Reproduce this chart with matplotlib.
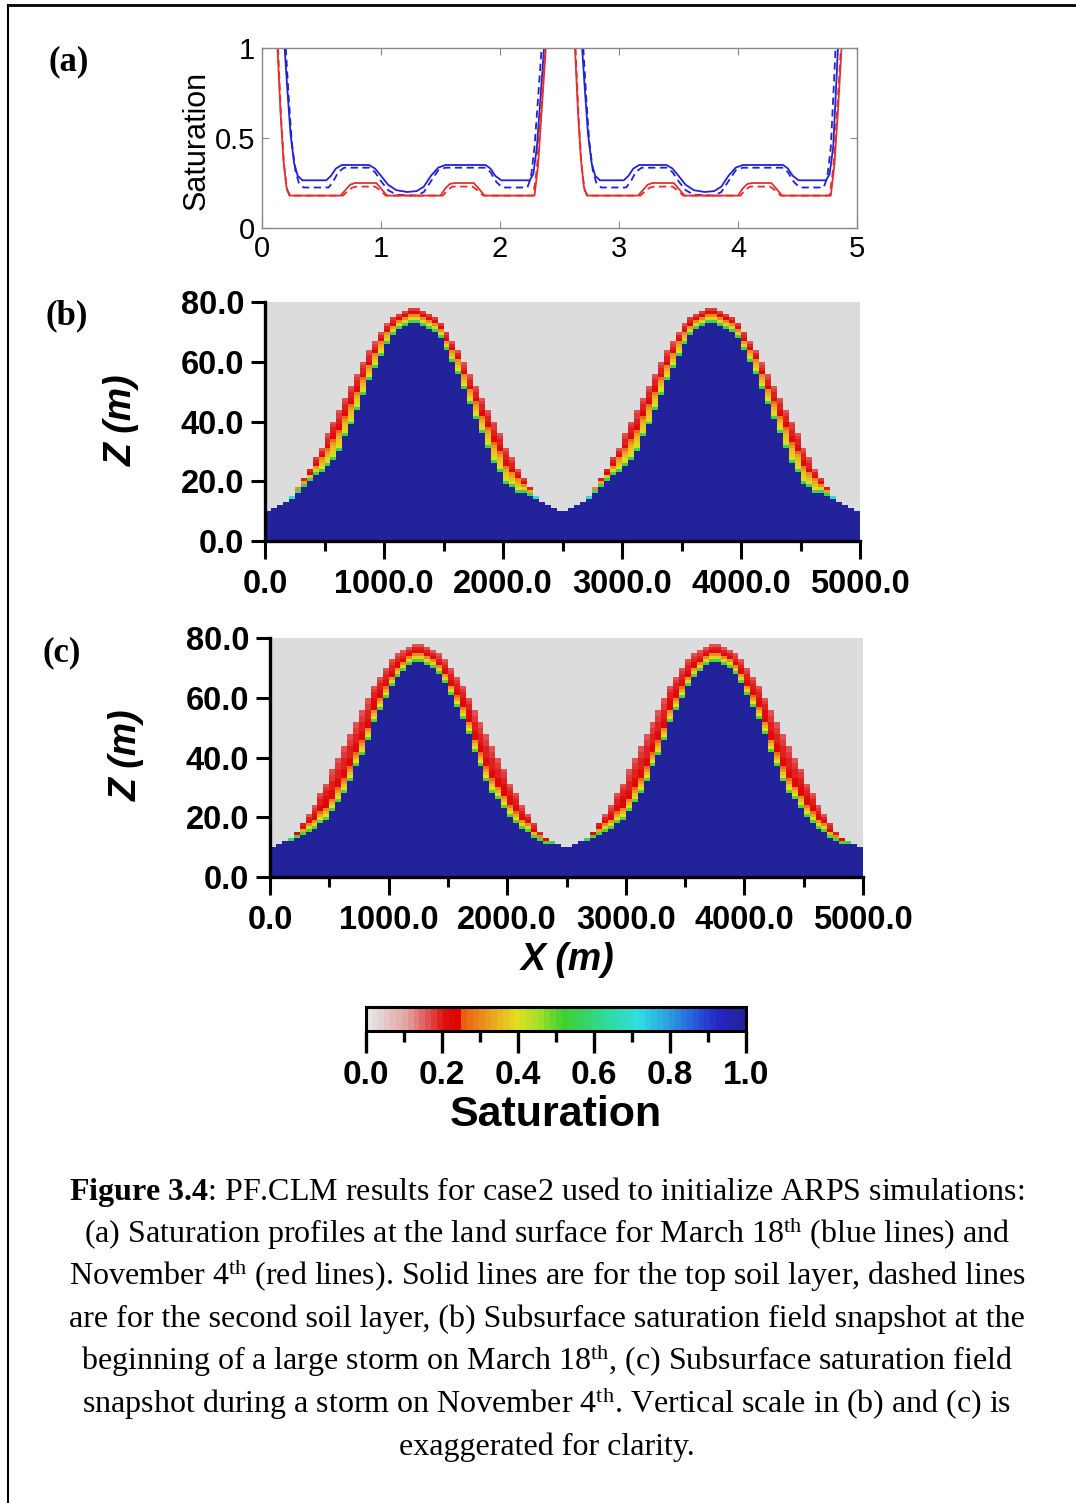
# PF.CLM case2 figure: saturation profiles (a) and subsurface saturation fields (b), (c)
import numpy as np
import matplotlib.pyplot as plt
from matplotlib.colors import LinearSegmentedColormap, Normalize
from matplotlib.cm import ScalarMappable
from matplotlib.lines import Line2D
from matplotlib.ticker import MultipleLocator

nan = np.nan

# ---- (a) surface saturation profiles, x in km ----
march_top_x = [0.19, 0.215, 0.24, 0.27, 0.30, 0.34, 0.54, 0.58, 0.62, 0.67, 0.90, 0.95, 1.00, 1.06, 1.13,
               1.22, 1.30, 1.36, 1.42, 1.48, 1.54, 1.88, 1.92, 1.96, 2.01, 2.25, 2.28, 2.31, 2.34, 2.37, nan,
               2.69, 2.715, 2.74, 2.77, 2.80, 2.84, 3.04, 3.08, 3.12, 3.17, 3.40, 3.45, 3.50, 3.56, 3.63,
               3.72, 3.80, 3.86, 3.92, 3.98, 4.04, 4.38, 4.42, 4.46, 4.51, 4.74, 4.77, 4.80, 4.82, 4.84]
march_top_y = [1.00, 0.75, 0.52, 0.36, 0.29, 0.265, 0.265, 0.29, 0.33, 0.35, 0.35, 0.33, 0.29, 0.24, 0.21,
               0.20, 0.205, 0.23, 0.29, 0.335, 0.35, 0.35, 0.33, 0.29, 0.265, 0.265, 0.30, 0.45, 0.72, 1.00, nan,
               1.00, 0.75, 0.52, 0.36, 0.29, 0.265, 0.265, 0.29, 0.33, 0.35, 0.35, 0.33, 0.29, 0.24, 0.21,
               0.20, 0.205, 0.23, 0.29, 0.335, 0.35, 0.35, 0.33, 0.29, 0.265, 0.265, 0.30, 0.45, 0.72, 1.00]

march_sub_x = [0.20, 0.225, 0.25, 0.28, 0.31, 0.35, 0.56, 0.60, 0.64, 0.69, 0.90, 0.95, 1.00, 1.06, 1.13,
               1.30, 1.36, 1.42, 1.48, 1.54, 1.88, 1.92, 1.97, 2.02, 2.23, 2.26, 2.29, 2.32, 2.35, nan,
               2.70, 2.725, 2.75, 2.78, 2.81, 2.85, 3.06, 3.10, 3.14, 3.19, 3.40, 3.45, 3.50, 3.56, 3.63,
               3.80, 3.86, 3.92, 3.98, 4.04, 4.38, 4.42, 4.47, 4.52, 4.72, 4.75, 4.78, 4.80, 4.82]
march_sub_y = [1.00, 0.72, 0.48, 0.32, 0.25, 0.225, 0.225, 0.26, 0.31, 0.335, 0.335, 0.31, 0.26, 0.21, 0.185,
               0.18, 0.20, 0.26, 0.32, 0.335, 0.335, 0.31, 0.255, 0.225, 0.225, 0.28, 0.45, 0.72, 1.00, nan,
               1.00, 0.72, 0.48, 0.32, 0.25, 0.225, 0.225, 0.26, 0.31, 0.335, 0.335, 0.31, 0.26, 0.21, 0.185,
               0.18, 0.20, 0.26, 0.32, 0.335, 0.335, 0.31, 0.255, 0.225, 0.225, 0.28, 0.45, 0.72, 1.00]

nov_top_x = [0.13, 0.155, 0.18, 0.205, 0.23, 0.66, 0.70, 0.74, 0.78, 0.96, 1.00, 1.05, 1.50, 1.54, 1.58,
             1.62, 1.78, 1.82, 1.87, 2.29, 2.32, 2.35, 2.385, nan,
             2.63, 2.655, 2.68, 2.705, 2.73, 3.16, 3.20, 3.24, 3.28, 3.46, 3.50, 3.55, 4.00, 4.04, 4.08,
             4.12, 4.28, 4.32, 4.37, 4.78, 4.81, 4.84, 4.87]
nov_top_y = [1.00, 0.65, 0.38, 0.23, 0.18, 0.18, 0.21, 0.24, 0.25, 0.25, 0.22, 0.18, 0.18, 0.22, 0.245,
             0.25, 0.25, 0.22, 0.18, 0.18, 0.35, 0.65, 1.00, nan,
             1.00, 0.65, 0.38, 0.23, 0.18, 0.18, 0.21, 0.24, 0.25, 0.25, 0.22, 0.18, 0.18, 0.22, 0.245,
             0.25, 0.25, 0.22, 0.18, 0.18, 0.35, 0.65, 1.00]

nov_sub_x = [0.135, 0.16, 0.185, 0.21, 0.24, 0.68, 0.72, 0.76, 0.80, 0.95, 0.99, 1.04, 1.52, 1.56, 1.60,
             1.77, 1.81, 1.86, 2.28, 2.31, 2.34, 2.38, nan,
             2.635, 2.66, 2.685, 2.71, 2.74, 3.18, 3.22, 3.26, 3.30, 3.45, 3.49, 3.54, 4.02, 4.06, 4.10,
             4.27, 4.31, 4.36, 4.77, 4.80, 4.83, 4.865]
nov_sub_y = [1.00, 0.62, 0.35, 0.21, 0.18, 0.18, 0.205, 0.225, 0.23, 0.23, 0.21, 0.18, 0.18, 0.21, 0.23,
             0.23, 0.21, 0.18, 0.18, 0.33, 0.62, 1.00, nan,
             1.00, 0.62, 0.35, 0.21, 0.18, 0.18, 0.205, 0.225, 0.23, 0.23, 0.21, 0.18, 0.18, 0.21, 0.23,
             0.23, 0.21, 0.18, 0.18, 0.33, 0.62, 1.00]

# ---- (b), (c) subsurface fields: 100 columns of 50 m, 80 layers of 1 m ----
surface_z = [10, 11, 12, 13, 15, 18, 21, 24, 28, 31, 36, 40, 44, 48, 52, 56, 60, 64, 67, 70, 73, 75, 76, 77, 78,
             78, 77, 76, 75, 73, 70, 67, 64, 60, 56, 52, 48, 44, 40, 36, 31, 28, 24, 21, 18, 15, 13, 12, 11, 10,
             10, 11, 12, 13, 15, 18, 21, 24, 28, 31, 36, 40, 44, 48, 52, 56, 60, 64, 67, 70, 73, 75, 76, 77, 78,
             78, 77, 76, 75, 73, 70, 67, 64, 60, 56, 52, 48, 44, 40, 36, 31, 28, 24, 21, 18, 15, 13, 12, 11, 10]

# number of unsaturated cells below the land surface in each column
dry_depth_b = [0, 0, 0, 0, 1, 2, 3, 4, 6, 8, 11, 13, 14, 13, 13, 12, 11, 10, 9, 8, 7, 6, 5, 5, 5,
               5, 5, 5, 5, 5, 6, 7, 8, 9, 10, 11, 12, 13, 14, 13, 12, 10, 8, 5, 3, 1, 0, 0, 0, 0,
               0, 0, 0, 0, 1, 2, 3, 4, 6, 8, 11, 13, 14, 13, 13, 12, 11, 10, 9, 8, 7, 6, 5, 5, 5,
               5, 5, 5, 5, 5, 6, 7, 8, 9, 10, 11, 12, 13, 14, 13, 12, 10, 8, 5, 3, 1, 0, 0, 0, 0]
dry_depth_c = [0, 0, 0, 1, 2, 4, 6, 8, 10, 12, 14, 15, 16, 16, 15, 15, 14, 12, 11, 10, 9, 8, 7, 6, 6,
               6, 6, 6, 7, 8, 9, 10, 11, 12, 14, 15, 16, 16, 14, 13, 11, 10, 8, 6, 5, 3, 2, 1, 0, 0,
               0, 0, 0, 1, 2, 4, 6, 8, 10, 12, 14, 15, 16, 16, 15, 15, 14, 12, 11, 10, 9, 8, 7, 6, 6,
               6, 6, 6, 7, 8, 9, 10, 11, 12, 14, 15, 16, 16, 14, 13, 11, 10, 8, 6, 5, 3, 2, 1, 0, 0]

# saturation from the surface downward for a given unsaturated depth
profile_b = {1: [0.7], 2: [0.3, 0.6], 3: [0.2, 0.33, 0.55], 4: [0.2, 0.22, 0.36, 0.55],
             5: [0.18, 0.21, 0.3, 0.38, 0.55],
             6: [0.18, 0.2, 0.22, 0.32, 0.38, 0.55],
             7: [0.17, 0.19, 0.21, 0.3, 0.35, 0.39, 0.55],
             8: [0.17, 0.19, 0.21, 0.3, 0.34, 0.37, 0.40, 0.55],
             9: [0.17, 0.18, 0.2, 0.22, 0.3, 0.34, 0.37, 0.40, 0.55],
             10: [0.17, 0.18, 0.19, 0.2, 0.22, 0.3, 0.34, 0.37, 0.40, 0.55],
             11: [0.17, 0.18, 0.19, 0.2, 0.21, 0.28, 0.32, 0.35, 0.38, 0.41, 0.55],
             12: [0.17, 0.18, 0.19, 0.2, 0.21, 0.22, 0.29, 0.33, 0.36, 0.39, 0.41, 0.55],
             13: [0.17, 0.18, 0.19, 0.2, 0.21, 0.22, 0.28, 0.32, 0.35, 0.37, 0.39, 0.41, 0.55],
             14: [0.17, 0.18, 0.18, 0.19, 0.2, 0.21, 0.22, 0.28, 0.32, 0.35, 0.37, 0.39, 0.41, 0.55]}
profile_c = {1: [0.55], 2: [0.22, 0.5], 3: [0.2, 0.3, 0.5], 4: [0.19, 0.21, 0.33, 0.5],
             5: [0.18, 0.2, 0.22, 0.35, 0.5], 6: [0.17, 0.19, 0.21, 0.3, 0.38, 0.5],
             7: [0.17, 0.18, 0.2, 0.22, 0.3, 0.38, 0.5],
             8: [0.17, 0.18, 0.19, 0.21, 0.23, 0.32, 0.39, 0.5],
             9: [0.17, 0.18, 0.19, 0.2, 0.21, 0.23, 0.32, 0.39, 0.5],
             10: [0.17, 0.18, 0.19, 0.2, 0.21, 0.22, 0.28, 0.34, 0.4, 0.5],
             11: [0.17, 0.18, 0.19, 0.2, 0.21, 0.22, 0.23, 0.29, 0.35, 0.4, 0.5],
             12: [0.17, 0.18, 0.19, 0.2, 0.21, 0.22, 0.23, 0.24, 0.3, 0.35, 0.4, 0.5],
             13: [0.17, 0.18, 0.18, 0.19, 0.2, 0.21, 0.22, 0.23, 0.24, 0.3, 0.35, 0.4, 0.5],
             14: [0.17, 0.17, 0.18, 0.18, 0.19, 0.19, 0.2, 0.21, 0.22, 0.23, 0.3, 0.35, 0.4, 0.5],
             15: [0.17, 0.17, 0.18, 0.18, 0.19, 0.19, 0.2, 0.21, 0.22, 0.23, 0.28, 0.32, 0.36, 0.4, 0.5],
             16: [0.17, 0.17, 0.18, 0.18, 0.19, 0.19, 0.2, 0.2, 0.21, 0.22, 0.23, 0.28, 0.32, 0.36, 0.4, 0.5]}

caption = [r'$\mathbf{Figure\ 3.4}$: PF.CLM results for case2 used to initialize ARPS simulations:',
           r'(a) Saturation profiles at the land surface for March 18$^{\mathrm{th}}$ (blue lines) and',
           r'November 4$^{\mathrm{th}}$ (red lines). Solid lines are for the top soil layer, dashed lines',
           'are for the second soil layer, (b) Subsurface saturation field snapshot at the',
           r'beginning of a large storm on March 18$^{\mathrm{th}}$, (c) Subsurface saturation field',
           r'snapshot during a storm on November 4$^{\mathrm{th}}$. Vertical scale in (b) and (c) is',
           'exaggerated for clarity.']

plt.rcParams['mathtext.fontset'] = 'custom'
plt.rcParams['mathtext.rm'] = 'Liberation Serif'
plt.rcParams['mathtext.it'] = 'Liberation Serif:italic'
plt.rcParams['mathtext.bf'] = 'Liberation Serif:bold'

W, H = 1076, 1503
fig = plt.figure(figsize=(W / 100, H / 100), dpi=100)


def fx(px):
    return px / W


def fy(py):
    return 1 - py / H


# colour scale used in (b), (c) and the colour bar
sat_cmap = LinearSegmentedColormap.from_list('sat', [
    (0.00, '#e6e6e6'), (0.10, '#e3a3a3'), (0.16, '#e05050'), (0.20, '#e01010'), (0.24, '#e00000'),
    (0.25, '#e85a10'), (0.30, '#eb8c1e'), (0.36, '#e8c020'), (0.40, '#e0e020'), (0.45, '#a8e028'),
    (0.52, '#40d030'), (0.62, '#30d890'), (0.72, '#30e0e0'), (0.80, '#2aa0e0'), (0.88, '#2850d8'),
    (0.94, '#2424c0'), (1.00, '#22229a')], N=64)
sat_norm = Normalize(0, 1)

narrow = ['Liberation Sans Narrow', 'Liberation Sans', 'DejaVu Sans']
bold_sans = ['Liberation Sans', 'DejaVu Sans']

# ---------------- (a) ----------------
ax_a = fig.add_axes([fx(262), fy(228), fx(857) - fx(262), fy(48) - fy(228)])
ax_a.plot(march_top_x, march_top_y, color='#2222d0', lw=1.3)
ax_a.plot(march_sub_x, march_sub_y, color='#2222d0', lw=1.3, ls=(0, (4, 2.5)))
ax_a.plot(nov_top_x, nov_top_y, color='#e03030', lw=1.3)
ax_a.plot(nov_sub_x, nov_sub_y, color='#e03030', lw=1.3, ls=(0, (4, 2.5)))
ax_a.set_xlim(0, 5)
ax_a.set_ylim(0, 1)
ax_a.set_xticks([0, 1, 2, 3, 4, 5])
ax_a.set_yticks([0, 0.5, 1])
ax_a.set_yticklabels(['0', '0.5', '1'])
ax_a.tick_params(direction='in', top=True, right=True, color='#888888', length=5, width=0.8,
                 labelsize=21, pad=5)
for lab in ax_a.get_xticklabels() + ax_a.get_yticklabels():
    lab.set_family(narrow)
for sp in ax_a.spines.values():
    sp.set_color('#888888')
    sp.set_linewidth(1)
fig.text(fx(197), fy(140), 'Saturation', rotation=90, ha='center', va='center', size=22, family=narrow)


# ---------------- (b), (c) ----------------
def field(dry_depth, profiles):
    grid = np.full((80, len(surface_z)), np.nan)
    for i, h in enumerate(surface_z):
        grid[:h, i] = 1.0
        d = dry_depth[i]
        if d:
            for k, s in enumerate(profiles[d]):
                grid[h - 1 - k, i] = s
    return np.ma.masked_invalid(grid)


x_edges = np.arange(0, 5001, 50)
z_edges = np.arange(0, 81, 1)


def field_axes(rect, data):
    ax = fig.add_axes(rect)
    ax.set_facecolor('#dcdcdc')
    ax.pcolormesh(x_edges, z_edges, data, cmap=sat_cmap, norm=sat_norm, shading='flat', antialiased=False)
    ax.set_xlim(0, 5000)
    ax.set_ylim(0, 80)
    for s in ['top', 'right']:
        ax.spines[s].set_visible(False)
    for s in ['left', 'bottom']:
        ax.spines[s].set_linewidth(2.4)
    ax.set_xticks([0, 1000, 2000, 3000, 4000, 5000])
    ax.set_xticklabels(['0.0', '1000.0', '2000.0', '3000.0', '4000.0', '5000.0'])
    ax.xaxis.set_minor_locator(MultipleLocator(500))
    ax.set_yticks([0, 20, 40, 60, 80])
    ax.set_yticklabels(['0.0', '20.0', '40.0', '60.0', '80.0'])
    ax.tick_params(axis='x', which='major', direction='out', length=13, width=2.2, pad=7,
                   labelsize=23.5)
    ax.tick_params(axis='x', which='minor', direction='out', length=7, width=2.2)
    ax.tick_params(axis='y', which='major', direction='out', length=10, width=2.2, pad=5,
                   labelsize=23.5)
    for lab in ax.get_xticklabels() + ax.get_yticklabels():
        lab.set_family(bold_sans)
        lab.set_weight('bold')
    return ax


ax_b = field_axes([fx(265), fy(541), fx(860) - fx(265), fy(302) - fy(541)], field(dry_depth_b, profile_b))
ax_c = field_axes([fx(270), fy(877), fx(863) - fx(270), fy(638) - fy(877)], field(dry_depth_c, profile_c))

lab_style = dict(size=27, weight='bold', style='italic', family=bold_sans, ha='center', va='center')
fig.text(fx(122), fy(420), 'Z (m)', rotation=90, **lab_style)
fig.text(fx(127), fy(755), 'Z (m)', rotation=90, **lab_style)
fig.text(fx(568), fy(960), 'X (m)', **lab_style)

# ---------------- colour bar ----------------
cax = fig.add_axes([fx(366), fy(1031), fx(746) - fx(366), fy(1007) - fy(1031)])
cb = fig.colorbar(ScalarMappable(norm=sat_norm, cmap=sat_cmap), cax=cax, orientation='horizontal')
cb.outline.set_linewidth(2.2)
cb.set_ticks([0, 0.2, 0.4, 0.6, 0.8, 1.0])
cb.set_ticklabels(['0.0', '0.2', '0.4', '0.6', '0.8', '1.0'])
cax.xaxis.set_minor_locator(MultipleLocator(0.1))
cax.tick_params(which='major', length=16, width=2.4, pad=5, labelsize=24)
cax.tick_params(which='minor', length=8, width=2.4)
for lab in cax.get_xticklabels():
    lab.set_family(bold_sans)
    lab.set_weight('bold')
fig.text(fx(556), fy(1115), 'Saturation', size=31, weight='bold', family=bold_sans, ha='center', va='center')

# ---------------- panel letters ----------------
letter_style = dict(size=25, weight='bold', family='Liberation Serif', ha='center', va='center')
fig.text(fx(69), fy(62), '(a)', **letter_style)
fig.text(fx(67), fy(316), '(b)', **letter_style)
fig.text(fx(62), fy(653), '(c)', **letter_style)

# ---------------- caption ----------------
for n, line in enumerate(caption):
    fig.text(fx(547), fy(1200 + 42.5 * n), line, size=23, family='Liberation Serif',
             ha='center', va='baseline')

# page frame: top and left rules
fig.add_artist(Line2D([fx(8), 1], [fy(5), fy(5)], transform=fig.transFigure, color='black', lw=2))
fig.add_artist(Line2D([fx(8), fx(8)], [0, fy(5)], transform=fig.transFigure, color='black', lw=1.5))

fig.savefig('out.png', dpi=100)
